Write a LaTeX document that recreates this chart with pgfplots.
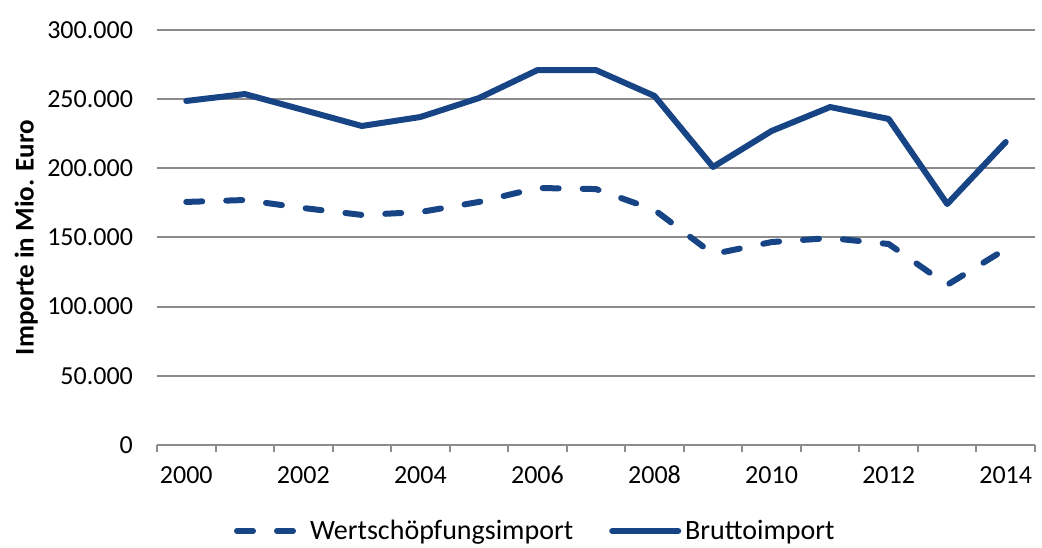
\documentclass[border=0pt]{standalone}
\usepackage{fontspec}
\setmainfont{Carlito}
\usepackage{pgfplots}
\pgfplotsset{compat=1.18}
\definecolor{linblue}{RGB}{22,68,133}
\definecolor{gridgray}{RGB}{140,140,140}

\begin{document}
\begin{tikzpicture}
\begin{axis}[
  scale only axis, width=439pt, height=207.5pt,
  xmin=1999.5, xmax=2014.5, ymin=0, ymax=300000,
  xtick={2000,2002,...,2014},
  minor xtick={1999.5,2000.5,...,2014.5},
  ytick={0,50000,...,300000},
  major tick length=0pt,
  minor tick length=3.5pt,
  tick align=outside,
  minor tick style={gridgray, line width=1pt},
  axis x line*=bottom, axis y line*=left,
  x axis line style={gridgray, line width=1pt, -},
  y axis line style={draw=none},
  ymajorgrids, grid style={gridgray, line width=1pt},
  xticklabel style={font=\fontsize{13}{15}\selectfont, text height=8.5pt, text depth=0pt, yshift=-7pt},
  yticklabel style={font=\fontsize{13}{15}\selectfont, xshift=-8.5pt},
  /pgf/number format/assume math mode=true,
  x tick label style={/pgf/number format/1000 sep={}},
  y tick label style={/pgf/number format/fixed, /pgf/number format/1000 sep={.}},
  scaled y ticks=false,
  ylabel={Importe in Mio. Euro},
  ylabel style={font=\fontsize{13.5}{15}\selectfont\bfseries, at={(axis description cs:-0.149,0.5)}, anchor=center},
  legend columns=2,
  legend style={draw=none, fill=none, font=\fontsize{14}{16}\selectfont,
    at={(axis description cs:0.432,-0.207)}, anchor=center,
    /tikz/every even column/.append style={column sep=16pt}},
  legend image code/.code={\draw[#1] (0pt,0pt) -- (33pt,0pt);},
]
\addplot[linblue, line width=3pt, line cap=round, line join=round, dash pattern=on 8pt off 12pt] coordinates {
(2000,175700) (2001,177100) (2002,171300) (2003,166300) (2004,168400)
(2005,175700) (2006,185800) (2007,185000) (2008,169900) (2009,138000)
(2010,146700) (2011,149600) (2012,145300) (2013,115700) (2014,141700)};
\addlegendentry{Wertschöpfungsimport}
\addplot[linblue, line width=3pt, line cap=round, line join=round] coordinates {
(2000,248700) (2001,253700) (2002,242200) (2003,230600) (2004,237100)
(2005,250800) (2006,271000) (2007,271000) (2008,252300) (2009,201000)
(2010,227000) (2011,244300) (2012,235700) (2013,174200) (2014,219000)};
\addlegendentry{Bruttoimport}
\coordinate (bl) at (rel axis cs:-0.1788,-0.2458);
\coordinate (tr) at (rel axis cs:1.00797,1.0723);
\end{axis}
\pgfresetboundingbox
\path[use as bounding box] (bl) rectangle (tr);
\end{tikzpicture}
\end{document}
